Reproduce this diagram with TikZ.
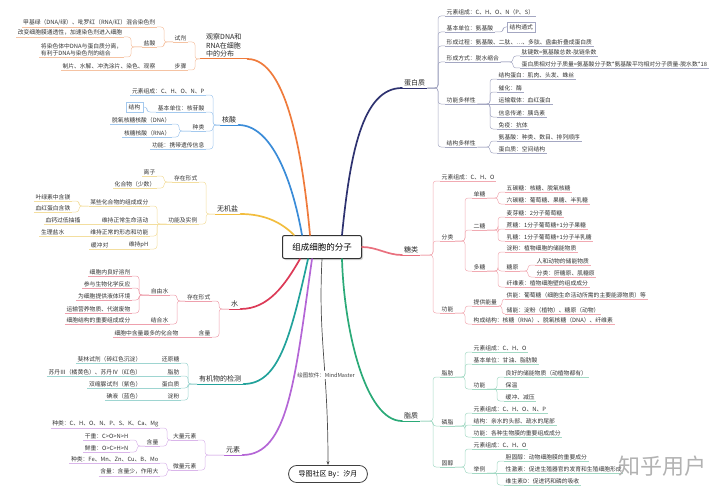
\documentclass[tikz,border=0pt]{standalone}
\usepackage{fontspec}
\setmainfont{Noto Sans CJK SC}
\usetikzlibrary{shadows, arrows.meta}
\definecolor{cPro}{HTML}{2E3270}
\definecolor{lnPro}{HTML}{A4A7C2}
\definecolor{cSug}{HTML}{E9707E}
\definecolor{lnSug}{HTML}{F1AAB2}
\definecolor{cLip}{HTML}{2BAA78}
\definecolor{lnLip}{HTML}{A3D9C4}
\definecolor{cObs}{HTML}{EF7B3C}
\definecolor{lnObs}{HTML}{F5C3A3}
\definecolor{cNuc}{HTML}{3B8CD8}
\definecolor{lnNuc}{HTML}{A4C9EE}
\definecolor{cSalt}{HTML}{F2BD3E}
\definecolor{lnSalt}{HTML}{F3DE9F}
\definecolor{cWat}{HTML}{DC3A57}
\definecolor{lnWat}{HTML}{EEA0AD}
\definecolor{cDet}{HTML}{22A29B}
\definecolor{lnDet}{HTML}{9ED5D1}
\definecolor{cEle}{HTML}{B466D6}
\definecolor{lnEle}{HTML}{DAB6EA}
\newcommand\fleaf{\fontsize{5.8}{7}\selectfont}
\newcommand\fmain{\fontsize{7}{8.5}\selectfont}

\begin{document}
\begin{tikzpicture}[x=1pt, y=-1pt,
leaf/.style={font=\fleaf, text=black!80, inner xsep=1.5pt, inner ysep=1.2pt},
topic/.style={font=\fmain, text=black!85, inner xsep=2pt, inner ysep=1.5pt},
ul/.style={append after command={(\tikzlastnode.south west) edge[draw=#1, line width=0.5pt] (\tikzlastnode.south east)}},
tul/.style={append after command={(\tikzlastnode.south west) edge[draw=#1, line width=1pt] (\tikzlastnode.south east)}},
lr/.style={leaf, anchor=south west, ul=#1},
ll/.style={leaf, anchor=south east, ul=#1},
tp/.style={topic, anchor=south west, tul=#1},
rb/.style={to path={-| ([xshift=-#1]\tikztotarget) -- (\tikztotarget)}}, rb/.default=7pt,
lb/.style={to path={-| ([xshift=#1]\tikztotarget) -- (\tikztotarget)}}, lb/.default=7pt,
link/.style={draw=#1, line width=0.5pt, rounded corners=3pt},
branch/.style={draw=#1, line width=1.7pt, line cap=round}
]
\useasboundingbox (0,0) rectangle (720,495);

% centre
\node[draw=black!80, line width=1pt, rounded corners=2pt, fill=white, minimum width=79pt, minimum height=23pt,
  font=\fontsize{8.5}{10}\selectfont, drop shadow={shadow xshift=1.5pt, shadow yshift=-1.5pt, fill=black!30}] (core) at (322,247) {组成细胞的分子};

% 蛋白质
\node[tp=cPro] (prot) at (402,88) {蛋白质};
\node[lr=lnPro] (p1) at (445,16) {元素组成：C、H、O、N（P、S）};
\node[lr=lnPro] (p2) at (445,32) {基本单位：氨基酸};
\node[lr=lnPro] (p3) at (445,46) {形成过程：氨基酸、二肽、…、多肽、盘曲折叠成蛋白质};
\node[lr=lnPro] (p4) at (445,62) {形成方式：脱水缩合};
\node[lr=lnPro] (p5) at (445,104) {功能多样性};
\node[lr=lnPro] (p6) at (445,147) {结构多样性};
\node[leaf, draw=lnPro, anchor=west, inner sep=2.5pt] (pbox) at (507,27) {结构通式};
\node[lr=lnPro] (p41) at (520,56) {肽键数=氨基酸总数-肽链条数};
\node[lr=lnPro] (p42) at (520,68) {蛋白质相对分子质量=氨基酸分子数*氨基酸平均相对分子质量-脱水数*18};
\node[lr=lnPro] (p51) at (497,79) {结构蛋白：肌肉、头发、蛛丝};
\node[lr=lnPro] (p52) at (497,92) {催化：酶};
\node[lr=lnPro] (p53) at (497,104) {运输载体：血红蛋白};
\node[lr=lnPro] (p54) at (497,117) {信息传递：胰岛素};
\node[lr=lnPro] (p55) at (497,129) {免疫：抗体};
\node[lr=lnPro] (p61) at (497,141) {氨基酸：种类、数目、排列顺序};
\node[lr=lnPro] (p62) at (497,153) {蛋白质：空间结构};
\foreach \c in {p1,p2,p3,p4,p5,p6} \draw[link=lnPro] (prot.south east) to[rb] (\c.south west);
\draw[link=lnPro] (p2.south east) to[rb=4pt] (pbox.west);
\foreach \c in {p41,p42} \draw[link=lnPro] (p4.south east) to[rb] (\c.south west);
\foreach \c in {p51,p52,p54,p55} \draw[link=lnPro] (p5.south east) to[rb] (\c.south west);
\draw[link=lnPro] (p5.south east) -- (p53.south west);
\foreach \c in {p61,p62} \draw[link=lnPro] (p6.south east) to[rb] (\c.south west);

% 糖类
\node[tp=cSug] (sugar) at (402,255) {糖类};
\node[lr=lnSug] (s1) at (440,181) {元素组成：C、H、O};
\node[lr=lnSug] (s2) at (440,241) {分类};
\node[lr=lnSug] (s3) at (440,313) {功能};
\node[lr=lnSug] (s21) at (472,198) {单糖};
\node[lr=lnSug] (s22) at (472,230) {二糖};
\node[lr=lnSug] (s23) at (472,271) {多糖};
\node[lr=lnSug] (s211) at (505,192) {五碳糖：核糖、脱氧核糖};
\node[lr=lnSug] (s212) at (505,204) {六碳糖：葡萄糖、果糖、半乳糖};
\node[lr=lnSug] (s221) at (505,217) {麦芽糖：2分子葡萄糖};
\node[lr=lnSug] (s222) at (505,229) {蔗糖：1分子葡萄糖+1分子果糖};
\node[lr=lnSug] (s223) at (505,241) {乳糖：1分子葡萄糖+1分子半乳糖};
\node[lr=lnSug] (s231) at (505,252) {淀粉：植物细胞的储能物质};
\node[lr=lnSug] (s232) at (505,271) {糖原};
\node[lr=lnSug] (s233) at (505,287) {纤维素：植物细胞壁的组成成分};
\node[lr=lnSug] (s2321) at (535,265) {人和动物的储能物质};
\node[lr=lnSug] (s2322) at (535,277) {分类：肝糖原、肌糖原};
\node[lr=lnSug] (s31) at (472,306) {提供能量};
\node[lr=lnSug] (s32) at (472,324) {构成结构：核糖（RNA）、脱氧核糖（DNA）、纤维素};
\node[lr=lnSug] (s311) at (505,299) {供能：葡萄糖（细胞生命活动所需的主要能源物质）等};
\node[lr=lnSug] (s312) at (505,314) {储能：淀粉（植物）、糖原（动物）};
\foreach \c in {s1,s2,s3} \draw[link=lnSug] (sugar.south east) to[rb] (\c.south west);
\foreach \c in {s21,s22,s23} \draw[link=lnSug] (s2.south east) to[rb] (\c.south west);
\foreach \c in {s211,s212} \draw[link=lnSug] (s21.south east) to[rb] (\c.south west);
\foreach \c in {s221,s222,s223} \draw[link=lnSug] (s22.south east) to[rb] (\c.south west);
\foreach \c in {s231,s232,s233} \draw[link=lnSug] (s23.south east) to[rb] (\c.south west);
\foreach \c in {s2321,s2322} \draw[link=lnSug] (s232.south east) to[rb] (\c.south west);
\foreach \c in {s31,s32} \draw[link=lnSug] (s3.south east) to[rb] (\c.south west);
\foreach \c in {s311,s312} \draw[link=lnSug] (s31.south east) to[rb=3pt] (\c.south west);

% 脂质
\node[tp=cLip] (lipid) at (402,421) {脂质};
\node[lr=lnLip] (l1) at (440,377) {脂肪};
\node[lr=lnLip] (l2) at (440,426) {磷脂};
\node[lr=lnLip] (l3) at (440,467) {固醇};
\node[lr=lnLip] (l11) at (472,352) {元素组成：C、H、O};
\node[lr=lnLip] (l12) at (472,364) {基本单位：甘油、脂肪酸};
\node[lr=lnLip] (l13) at (472,389) {功能};
\node[lr=lnLip] (l131) at (504,377) {良好的储能物质（动植物都有）};
\node[lr=lnLip] (l132) at (504,389) {保温};
\node[lr=lnLip] (l133) at (504,401) {缓冲、减压};
\node[lr=lnLip] (l21) at (472,413) {元素组成：C、H、O、N、P};
\node[lr=lnLip] (l22) at (472,425) {结构：亲水的头部、疏水的尾部};
\node[lr=lnLip] (l23) at (472,437) {功能：各种生物膜的重要组成成分};
\node[lr=lnLip] (l31) at (472,449) {元素组成：C、H、O};
\node[lr=lnLip] (l32) at (472,473) {举例};
\node[lr=lnLip] (l321) at (504,461) {胆固醇：动物细胞膜的重要成分};
\node[lr=lnLip] (l322) at (504,473) {性激素：促进生殖器官的发育和生殖细胞形成};
\node[lr=lnLip] (l323) at (504,485) {维生素D：促进钙和磷的吸收};
\foreach \c in {l1,l2,l3} \draw[link=lnLip] (lipid.south east) to[rb] (\c.south west);
\foreach \c in {l11,l12,l13} \draw[link=lnLip] (l1.south east) to[rb] (\c.south west);
\foreach \c in {l131,l133} \draw[link=lnLip] (l13.south east) to[rb] (\c.south west);
\draw[link=lnLip] (l13.south east) -- (l132.south west);
\foreach \c in {l21,l22,l23} \draw[link=lnLip] (l2.south east) to[rb] (\c.south west);
\foreach \c in {l31,l32} \draw[link=lnLip] (l3.south east) to[rb] (\c.south west);
\foreach \c in {l321,l323} \draw[link=lnLip] (l32.south east) to[rb] (\c.south west);
\draw[link=lnLip] (l32.south east) -- (l322.south west);

% 观察DNA和RNA在细胞中的分布
\node[tp=cObs, align=left, inner xsep=6pt] (obs) at (200,59) {观察DNA和\\RNA在细胞\\中的分布};
\node[ll=lnObs] (o1) at (188,42) {试剂};
\node[ll=lnObs] (o2) at (188,70) {步骤};
\node[ll=lnObs] (o11) at (157,27) {甲基绿（DNA/绿）、吡罗红（RNA/红）混合染色剂};
\node[ll=lnObs] (o12) at (157,47) {盐酸};
\node[ll=lnObs] (o121) at (124,37) {改变细胞膜通透性，加速染色剂进入细胞};
\node[ll=lnObs, align=left] (o122) at (124,57) {将染色体中DNA与蛋白质分离，\\有利于DNA与染色剂的结合};
\node[ll=lnObs] (o21) at (157,70) {制片、水解、冲洗涂片、染色、观察};
\foreach \c in {o1,o2} \draw[link=lnObs] (obs.south west) to[lb] (\c.south east);
\foreach \c in {o11,o12} \draw[link=lnObs] (o1.south west) to[lb] (\c.south east);
\foreach \c in {o121,o122} \draw[link=lnObs] (o12.south west) to[lb] (\c.south east);
\draw[link=lnObs] (o2.south west) -- (o21.south east);

% 核酸
\node[tp=cNuc] (nuc) at (220,125) {核酸};
\node[ll=lnNuc] (n1) at (206,95) {元素组成：C、H、O、N、P};
\node[ll=lnNuc] (n2) at (206,112) {基本单位：核苷酸};
\node[ll=lnNuc] (n3) at (206,131) {种类};
\node[ll=lnNuc] (n4) at (206,149) {功能：携带遗传信息};
\node[leaf, draw=lnNuc, anchor=east, inner sep=2.5pt] (nbox) at (143,107) {结构};
\node[ll=lnNuc] (n31) at (172,124) {脱氧核糖核酸（DNA）};
\node[ll=lnNuc] (n32) at (172,137) {核糖核酸（RNA）};
\foreach \c in {n1,n2,n3,n4} \draw[link=lnNuc] (nuc.south west) to[lb] (\c.south east);
\draw[link=lnNuc] (n2.south west) to[lb=4pt] (nbox.east);
\foreach \c in {n31,n32} \draw[link=lnNuc] (n3.south west) to[lb] (\c.south east);

% 无机盐
\node[tp=cSalt] (salt) at (215,214) {无机盐};
\node[ll=lnSalt] (i1) at (199,182) {存在形式};
\node[ll=lnSalt] (i2) at (199,224) {功能及实例};
\node[ll=lnSalt] (i11) at (157,176) {离子};
\node[ll=lnSalt] (i12) at (157,188) {化合物（少数）};
\node[ll=lnSalt] (i21) at (150,206) {某些化合物的组成成分};
\node[ll=lnSalt] (i22) at (150,224) {维持正常生命活动};
\node[ll=lnSalt] (i23) at (150,236) {维持正常的形态和功能};
\node[ll=lnSalt] (i24) at (150,249) {维持pH};
\node[ll=lnSalt] (i211) at (72,201) {叶绿素中含镁};
\node[ll=lnSalt] (i212) at (72,212) {血红蛋白含铁};
\node[ll=lnSalt] (i221) at (82,224) {血钙过低抽搐};
\node[ll=lnSalt] (i231) at (66,236) {生理盐水};
\node[ll=lnSalt] (i241) at (110,249) {缓冲对};
\foreach \c in {i1,i2} \draw[link=lnSalt] (salt.south west) to[lb] (\c.south east);
\foreach \c in {i11,i12} \draw[link=lnSalt] (i1.south west) to[lb] (\c.south east);
\foreach \c in {i21,i23,i24} \draw[link=lnSalt] (i2.south west) to[lb] (\c.south east);
\draw[link=lnSalt] (i2.south west) -- (i22.south east);
\foreach \c in {i211,i212} \draw[link=lnSalt] (i21.south west) to[lb] (\c.south east);
\draw[link=lnSalt] (i22.south west) -- (i221.south east);
\draw[link=lnSalt] (i23.south west) -- (i231.south east);
\draw[link=lnSalt] (i24.south west) -- (i241.south east);

% 水
\node[tp=cWat] (water) at (229,309) {水};
\node[ll=lnWat] (w1) at (212,301) {存在形式};
\node[ll=lnWat] (w2) at (212,337) {含量};
\node[ll=lnWat] (w11) at (170,295) {自由水};
\node[ll=lnWat] (w12) at (170,324) {结合水};
\node[ll=lnWat] (w111) at (132,276) {细胞内良好溶剂};
\node[ll=lnWat] (w112) at (132,288) {参与生物化学反应};
\node[ll=lnWat] (w113) at (132,300) {为细胞提供液体环境};
\node[ll=lnWat] (w114) at (132,313) {运输营养物质、代谢废物};
\node[ll=lnWat] (w121) at (132,324) {细胞结构的重要组成成分};
\node[ll=lnWat] (w21) at (180,337) {细胞中含量最多的化合物};
\foreach \c in {w1,w2} \draw[link=lnWat] (water.south west) to[lb] (\c.south east);
\foreach \c in {w11,w12} \draw[link=lnWat] (w1.south west) to[lb] (\c.south east);
\foreach \c in {w111,w112,w113,w114} \draw[link=lnWat] (w11.south west) to[lb] (\c.south east);
\draw[link=lnWat] (w12.south west) -- (w121.south east);
\draw[link=lnWat] (w2.south west) -- (w21.south east);

% 有机物的检测
\node[tp=cDet] (det) at (197,384) {有机物的检测};
\node[ll=lnDet] (d1) at (181,363) {还原糖};
\node[ll=lnDet] (d2) at (181,376) {脂肪};
\node[ll=lnDet] (d3) at (181,388) {蛋白质};
\node[ll=lnDet] (d4) at (181,400) {淀粉};
\node[ll=lnDet] (d11) at (143,363) {斐林试剂（砖红色沉淀）};
\node[ll=lnDet] (d21) at (143,376) {苏丹Ⅲ（橘黄色）、苏丹Ⅳ（红色）};
\node[ll=lnDet] (d31) at (143,388) {双缩脲试剂（紫色）};
\node[ll=lnDet] (d41) at (143,400) {碘液（蓝色）};
\foreach \c in {d1,d2,d3,d4} \draw[link=lnDet] (det.south west) to[lb] (\c.south east);
\foreach \p/\c in {d1/d11,d2/d21,d3/d31,d4/d41} \draw[link=lnDet] (\p.south west) -- (\c.south east);

% 元素
\node[tp=cEle] (elem) at (224,455) {元素};
\node[ll=lnEle] (e1) at (198,440) {大量元素};
\node[ll=lnEle] (e2) at (198,470) {微量元素};
\node[ll=lnEle] (e11) at (160,428) {种类：C、H、O、N、P、S、K、Ca、Mg};
\node[ll=lnEle] (e12) at (160,446) {含量};
\node[ll=lnEle] (e121) at (130,440) {干重：C>O>N>H};
\node[ll=lnEle] (e122) at (130,452) {鲜重：O>C>H>N};
\node[ll=lnEle] (e21) at (160,463) {种类：Fe、Mn、Zn、Cu、B、Mo};
\node[ll=lnEle] (e22) at (160,476) {含量：含量少，作用大};
\foreach \c in {e1,e2} \draw[link=lnEle] (elem.south west) to[lb] (\c.south east);
\foreach \c in {e11,e12} \draw[link=lnEle] (e1.south west) to[lb] (\c.south east);
\foreach \c in {e121,e122} \draw[link=lnEle] (e12.south west) to[lb] (\c.south east);
\foreach \c in {e21,e22} \draw[link=lnEle] (e2.south west) to[lb] (\c.south east);

% main branches
\draw[branch=cPro] ([xshift=20pt]core.north) .. controls +(8,-80) and +(-40,0) .. (prot.south west);
\draw[branch=cSug] (core.east) .. controls +(15,0) and +(-15,0) .. (sugar.south west);
\draw[branch=cLip] ([xshift=20pt]core.south) .. controls +(2,70) and +(-37,0) .. (lipid.south west);
\draw[branch=cObs] ([xshift=-12pt]core.north) .. controls +(-7,-76) and +(40,0) .. (obs.south east);
\draw[branch=cNuc] ([xshift=-20pt]core.north) .. controls +(-10,-56) and +(33,0) .. (nuc.south east);
\draw[branch=cSalt] ([xshift=-28pt]core.north) .. controls +(-12,-12) and +(25,0) .. (salt.south east);
\draw[branch=cWat] ([xshift=-22pt]core.south) .. controls +(-15,26) and +(28,0) .. (water.south east);
\draw[branch=cDet] ([xshift=-14pt]core.south) .. controls +(-18,80) and +(35,0) .. (det.south east);
\draw[branch=cEle] ([xshift=-10pt]core.south) .. controls +(-17,120) and +(46,0) .. (elem.south east);

% author
\node[draw=black!75, line width=0.8pt, rounded corners=8pt, minimum height=17pt, inner xsep=10pt, font=\fmain, fill=white] (author) at (328,474) {导图社区 By：汐月};
\draw[-{Stealth[length=4pt]}, draw=black!70, line width=0.7pt] (core.south) .. controls +(-4,80) and +(0,-100) .. (author.north);
\node[font=\fontsize{5.5}{6}\selectfont, fill=white, inner sep=1pt, text=black!75] (soft) at (326,375) {绘图软件：MindMaster};

\node[font=\fontsize{22}{24}\selectfont, text=black!30] (mark) at (662,466) {知乎用户};
\end{tikzpicture}
\end{document}
